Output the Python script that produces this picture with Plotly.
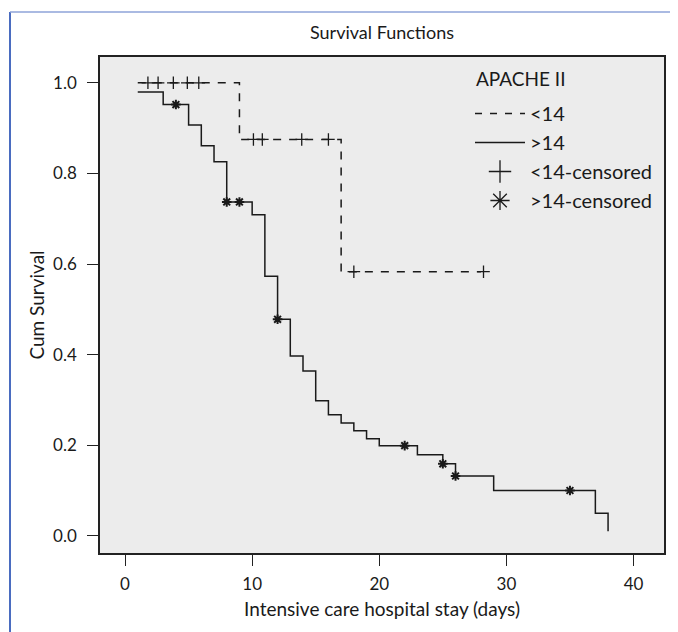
import plotly.graph_objects as go

# ---- data ----
low_t = [1, 9, 17, 28]
low_s = [1.0, 0.875, 0.583, 0.583]
low_cens_t = [1.8, 2.6, 3.8, 4.9, 5.8, 10.1, 10.8, 13.9, 16.0, 18.0, 28.2]
low_cens_s = [1.0, 1.0, 1.0, 1.0, 1.0, 0.875, 0.875, 0.875, 0.875, 0.583, 0.583]

high_t = [1, 3, 5, 6, 7, 8, 10, 11, 12, 13, 14, 15, 16, 17, 18, 19, 20, 23, 25, 26, 29, 37, 38]
high_s = [0.98, 0.952, 0.907, 0.861, 0.826, 0.737, 0.709, 0.573, 0.478, 0.397, 0.364, 0.298,
          0.267, 0.249, 0.232, 0.214, 0.199, 0.179, 0.159, 0.132, 0.1, 0.05, 0.01]
high_cens_t = [4, 8, 9, 12, 22, 25, 26, 35]
high_cens_s = [0.952, 0.737, 0.737, 0.478, 0.199, 0.159, 0.132, 0.1]

x_ticks = [0, 10, 20, 30, 40]
y_ticks = [0.0, 0.2, 0.4, 0.6, 0.8, 1.0]

FONT = "Lato"
INK = "#1a1a1a"

fig = go.Figure()

# plotted series (no legend)
fig.add_trace(go.Scatter(x=low_t, y=low_s, mode="lines", line_shape="hv",
                         line=dict(color=INK, width=1.5, dash="8px,8px"), showlegend=False))
fig.add_trace(go.Scatter(x=high_t, y=high_s, mode="lines", line_shape="hv",
                         line=dict(color=INK, width=1.5), showlegend=False))
fig.add_trace(go.Scatter(x=low_cens_t, y=low_cens_s, mode="markers",
                         marker=dict(symbol="cross-thin-open", size=9, color=INK,
                                     line=dict(color=INK, width=1.3)), showlegend=False))
fig.add_trace(go.Scatter(x=high_cens_t, y=high_cens_s, mode="markers",
                         marker=dict(symbol="asterisk-open", size=8, color=INK,
                                     line=dict(color=INK, width=2)), showlegend=False))

# legend entries
fig.add_trace(go.Scatter(x=[None], y=[None], mode="lines", name="<14",
                         line=dict(color=INK, width=1.5, dash="7px,8px")))
fig.add_trace(go.Scatter(x=[None], y=[None], mode="lines", name=">14",
                         line=dict(color=INK, width=1.5)))
fig.add_trace(go.Scatter(x=[None], y=[None], mode="markers", name="<14-censored",
                         marker=dict(symbol="cross-thin-open", size=24, color=INK,
                                     line=dict(color=INK, width=1.3))))
fig.add_trace(go.Scatter(x=[None], y=[None], mode="markers", name=">14-censored",
                         marker=dict(symbol="asterisk-open", size=22, color=INK,
                                     line=dict(color=INK, width=1.3))))

axis_common = dict(showline=True, linecolor="#222", linewidth=1.5, mirror=True,
                   ticks="outside", ticklen=11, tickcolor="#222", tickwidth=1.3,
                   showgrid=False, zeroline=False,
                   tickfont=dict(family=FONT, size=17, color=INK))

fig.update_xaxes(range=[-1.97, 42.4], tickvals=x_ticks, ticktext=[str(v) for v in x_ticks],
                 ticklabelstandoff=4,
                 title=dict(text="Intensive care hospital stay (days)",
                            font=dict(family=FONT, size=19, color=INK), standoff=10),
                 **axis_common)
fig.update_yaxes(range=[-0.038, 1.057], tickvals=y_ticks,
                 ticktext=[f"{v:.1f}" for v in y_ticks],
                 ticklabelstandoff=7,
                 title=dict(text="Cum Survival", font=dict(family=FONT, size=19, color=INK),
                            standoff=3),
                 **axis_common)

# page has an 8px body margin: work in reference-image pixels and offset
OFF = 8
W, H = 678 - OFF, 632 - OFF
L, R, T, B = 100 - OFF, 14, 57 - OFF, 632 - 553
pw, ph = W - L - R, H - T - B

def px(xp):
    return (xp - OFF - L) / pw

def py(yp):
    return (H - B - (yp - OFF)) / ph

fig.update_layout(
    width=W, height=H,
    margin=dict(l=L, r=R, t=T, b=B),
    paper_bgcolor="white", plot_bgcolor="#ececec",
    font=dict(family=FONT, color=INK),
    title=dict(text="Survival Functions", x=0.5, xref="paper", xanchor="center",
               y=1 - (33 - OFF) / H, yanchor="middle",
               font=dict(family=FONT, size=18, color=INK)),
    legend=dict(x=px(470), y=py(94), xanchor="left", yanchor="top",
                bgcolor="rgba(0,0,0,0)", borderwidth=0,
                font=dict(family=FONT, size=20, color=INK), tracegroupgap=0,
                itemwidth=50),
    annotations=[
        dict(text="APACHE II", xref="paper", yref="paper", x=px(474), y=py(79),
             xanchor="left", yanchor="middle", showarrow=False,
             font=dict(family=FONT, size=19, color=INK)),
    ],
    shapes=[
        dict(type="line", xref="paper", yref="paper", x0=px(10), x1=px(10),
             y0=py(12), y1=py(660), line=dict(color="#4a6cc0", width=2)),
        dict(type="line", xref="paper", yref="paper", x0=px(10), x1=px(700),
             y0=py(12), y1=py(12), line=dict(color="#8ea3d8", width=1.5)),
        dict(type="line", xref="paper", yref="paper", x0=px(677), x1=px(677),
             y0=py(12), y1=py(660), line=dict(color="#c5d0ec", width=1)),
    ],
)

fig.write_html("out.html")
